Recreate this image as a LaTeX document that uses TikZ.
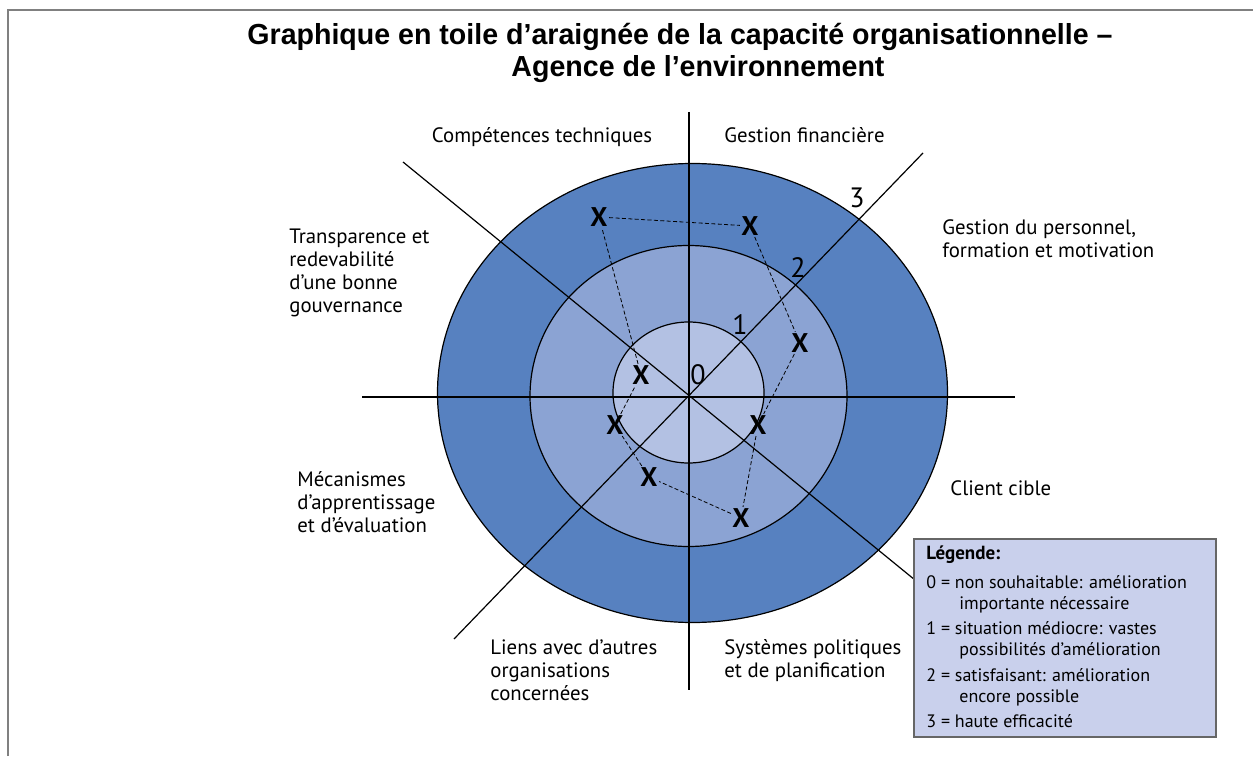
\documentclass[tikz,border=0pt]{standalone}
\usepackage{fontspec}
\setmainfont{PT Sans}
\newfontfamily\titlefont[FakeStretch=0.985]{Liberation Sans}
\usetikzlibrary{calc}
\definecolor{anneautrois}{RGB}{87,129,192}
\definecolor{anneaudeux}{RGB}{139,163,211}
\definecolor{anneauun}{RGB}{179,193,227}
\definecolor{fondlegende}{RGB}{201,208,236}
\definecolor{cadre}{RGB}{128,128,128}
\tikzset{
	axe/.style={line width=0.6pt, color=black},
	anneau/.style={line width=0.6pt, draw=black},
	etiquette/.style={font=\fontsize{10.4}{11.5}\selectfont, align=left, anchor=base west, inner sep=0pt},
	marque/.style={font=\bfseries\fontsize{13.5}{14}\selectfont, inner sep=0.6pt},
	niveau/.style={font=\fontsize{14}{15}\selectfont, inner sep=0pt},
	legende/.style={font=\fontsize{9}{10.5}\selectfont, align=left, anchor=base west, inner sep=0pt},
	pointille/.style={dash pattern=on 2pt off 1.2pt, line width=0.4pt}
}

\begin{document}
\begin{tikzpicture}[x=0.5pt, y=0.5pt]
			%%%%% START %%%%%
			\useasboundingbox (0, 0) rectangle (1253, 756);
			
			\draw[line width=1pt, color=cadre] (8, 0) -- (8, 746) -- (1253, 746);
			
			\node[font=\titlefont\bfseries\fontsize{14.5}{16}\selectfont, anchor=base] (titre1) at (680, 711) {Graphique en toile d’araignée de la capacité organisationnelle –};
			\node[font=\titlefont\bfseries\fontsize{14.5}{16}\selectfont, anchor=base] (titre2) at (698, 679) {Agence de l’environnement};
			
			\draw[anneau, fill=anneautrois] (692.5, 363) ellipse [x radius=255, y radius=229.5];
			\draw[anneau, fill=anneaudeux] (688.5, 360) ellipse [x radius=158.5, y radius=150.5];
			\draw[anneau, fill=anneauun] (688.5, 363.5) ellipse [x radius=75.5, y radius=70.5];
			
			\draw[axe] (362, 359) -- (1015, 359);
			\draw[axe] (689, 644) -- (689, 66);
			\draw[axe] (403, 594) -- (915, 176);
			\draw[axe] (454, 117) -- (923, 603);
			
			\node[niveau] (n0) at (698, 381) {0};
			\node[niveau] (n1) at (740, 431) {1};
			\node[niveau] (n2) at (798, 488) {2};
			\node[niveau] (n3) at (857, 558) {3};
			
			\node[marque] (x1) at (599, 539) {X};
			\node[marque] (x2) at (750, 530) {X};
			\node[marque] (x3) at (800, 413) {X};
			\node[marque] (x4) at (758, 331) {X};
			\node[marque] (x5) at (741, 238) {X};
			\node[marque] (x6) at (649, 279) {X};
			\node[marque] (x7) at (615, 331) {X};
			\node[marque] (x8) at (641, 381) {X};
			\draw[pointille] (x1) -- (x2) -- (x3) -- (x4) -- (x5) -- (x6) -- (x7) -- (x8) -- (x1);
			
			% multi-line labels sit on the baseline of their last line
			\node[etiquette, anchor=base] (competences) at (542, 613) {Compétences techniques};
			\node[etiquette] (finances) at (724, 613) {Gestion financière};
			\node[etiquette] (personnel) at (942, 498) {Gestion du personnel,\\formation et motivation};
			\node[etiquette] (transparence) at (289, 443) {Transparence et\\redevabilité\\d’une bonne\\gouvernance};
			\node[etiquette] (mecanismes) at (297, 224) {Mécanismes\\d’apprentissage\\et d’évaluation};
			\node[etiquette] (client) at (950, 261) {Client cible};
			\node[etiquette] (liens) at (490, 56) {Liens avec d’autres\\organisations\\concernées};
			\node[etiquette] (systemes) at (724, 79) {Systèmes politiques\\et de planification};
			
			\draw[line width=0.8pt, draw=cadre!80!black, fill=fondlegende] (914, 217) rectangle (1216, 19);
			\node[legende, font=\bfseries\fontsize{9.5}{10.5}\selectfont] (legtitre) at (926, 197) {Légende:};
			\node[legende] (leg0) at (926, 147) {0 = non souhaitable: amélioration\\\hspace*{16.5pt}importante nécessaire};
			\node[legende] (leg1) at (926, 101) {1 = situation médiocre: vastes\\\hspace*{16.5pt}possibilités d’amélioration};
			\node[legende] (leg2) at (926, 54) {2 = satisfaisant: amélioration\\\hspace*{16.5pt}encore possible};
			\node[legende] (leg3) at (926, 29) {3 = haute efficacité};
			
			%%%%% END %%%%%
\end{tikzpicture}
\end{document}
